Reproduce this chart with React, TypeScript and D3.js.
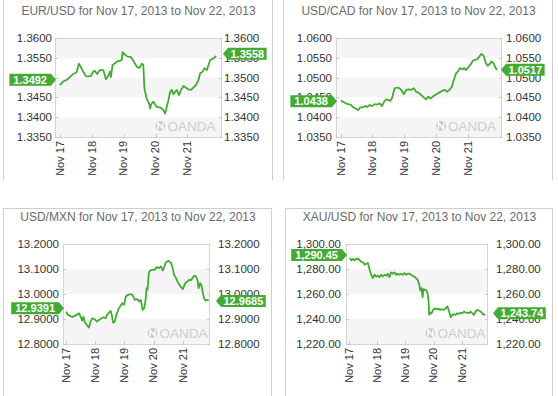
import * as d3 from 'd3';

const W = 558;
const H = 396;
const FONT = "'Liberation Sans', Arial, Helvetica, sans-serif";
const GREEN = '#43ab33';

// times are hours after Nov 17 2013 00:00, values as plotted
const eurHours = [0, 2.5, 5, 7.5, 10, 12.6, 14.3, 15.6, 17.6, 19.6, 21.4, 23.4, 25.1, 26.4, 28.1, 30.2, 32.7, 34.7, 36.4, 37.7, 38.4, 39.7, 41.5, 43.2, 45.2, 46.7, 47.2, 49.0, 51.0, 53.3, 55.3, 57.8, 59.8, 61.6, 62.8, 63.6, 65.3, 67.1, 67.9, 69.1, 70.4, 71.6, 72.9, 74.9, 76.6, 77.9, 79.2, 80.4, 81.7, 82.9, 84.2, 85.4, 86.7, 88.0, 89.7, 91.2, 93.0, 94.7, 96.8, 98.8, 100.5, 102.3, 104.3, 105.5, 107.3, 108.8, 110.6, 111.8, 113.1, 114.8, 116.8, 117.6];
const eurValues = [1.3481, 1.3490, 1.3494, 1.3501, 1.3509, 1.3513, 1.3535, 1.3528, 1.3515, 1.3504, 1.3503, 1.3504, 1.3515, 1.3517, 1.3509, 1.3519, 1.3519, 1.3496, 1.3504, 1.3515, 1.3501, 1.3532, 1.3536, 1.3541, 1.3542, 1.3545, 1.3564, 1.3558, 1.3553, 1.3552, 1.3543, 1.3528, 1.3524, 1.3535, 1.3532, 1.3473, 1.3447, 1.3435, 1.3422, 1.3435, 1.3439, 1.3433, 1.3426, 1.3425, 1.3422, 1.3418, 1.3409, 1.3426, 1.3443, 1.3464, 1.3469, 1.3458, 1.3464, 1.3469, 1.3456, 1.3469, 1.3479, 1.3475, 1.3470, 1.3469, 1.3475, 1.3481, 1.3494, 1.3511, 1.3515, 1.3524, 1.3519, 1.3532, 1.3545, 1.3547, 1.3552, 1.3555];
const eurTicks = [1.335, 1.34, 1.345, 1.35, 1.355, 1.36];

const cadHours = [0, 1.8, 3.8, 5.5, 7.5, 9.3, 11.1, 13.1, 14.8, 16.8, 18.6, 20.1, 21.9, 23.6, 25.6, 27.6, 29.4, 31.2, 32.7, 34.4, 36.2, 37.4, 38.7, 40.7, 42.7, 44.5, 45.7, 47.7, 49.5, 51.3, 53.3, 55.3, 57.0, 58.8, 60.8, 62.8, 64.6, 66.3, 67.9, 69.6, 71.4, 73.4, 75.4, 77.1, 78.9, 80.4, 82.2, 84.0, 85.5, 87.2, 88.5, 90.2, 92.2, 93.5, 94.7, 96.0, 98.0, 99.8, 101.5, 103.5, 104.8, 106.5, 108.1, 109.8, 111.1, 112.8, 114.1, 115.6, 116.6, 118.1];
const cadValues = [1.0442, 1.0439, 1.0435, 1.0433, 1.0432, 1.0425, 1.0422, 1.0418, 1.0425, 1.0425, 1.0428, 1.0426, 1.0431, 1.0428, 1.0433, 1.0432, 1.0435, 1.0428, 1.0439, 1.0445, 1.0443, 1.0441, 1.0447, 1.0473, 1.0475, 1.0473, 1.0469, 1.0458, 1.0469, 1.0470, 1.0469, 1.0473, 1.0464, 1.0462, 1.0456, 1.0450, 1.0445, 1.0452, 1.0447, 1.0452, 1.0456, 1.0460, 1.0464, 1.0467, 1.0469, 1.0464, 1.0469, 1.0477, 1.0494, 1.0511, 1.0515, 1.0524, 1.0521, 1.0524, 1.0519, 1.0524, 1.0532, 1.0542, 1.0545, 1.0547, 1.0553, 1.0560, 1.0555, 1.0536, 1.0530, 1.0535, 1.0541, 1.0536, 1.0528, 1.0519];
const cadTicks = [1.035, 1.04, 1.045, 1.05, 1.055, 1.06];

const mxnHours = [0, 1.4, 3.3, 5.0, 6.9, 8.8, 10.5, 11.9, 13.2, 14.3, 15.4, 17.1, 18.8, 20.1, 21.5, 23.4, 25.4, 27.0, 29.0, 30.9, 32.6, 33.7, 35.3, 36.7, 37.8, 38.6, 40.0, 41.4, 43.0, 44.7, 46.3, 47.7, 49.1, 51.0, 53.0, 54.6, 56.6, 58.5, 60.1, 61.5, 62.9, 64.3, 65.4, 66.2, 67.0, 68.1, 69.5, 71.2, 73.1, 74.5, 76.4, 78.1, 79.4, 80.6, 81.9, 84.1, 86.1, 87.7, 88.8, 90.5, 91.6, 93.2, 94.6, 96.0, 97.1, 98.5, 99.9, 101.2, 102.6, 104.0, 105.4, 106.8, 108.1, 109.0, 110.3, 111.2, 112.6, 113.7, 115.0, 116.4, 117.2];
const mxnValues = [12.9298, 12.9164, 12.9124, 12.9070, 12.9124, 12.9164, 12.9231, 12.9097, 12.8936, 12.9097, 12.8856, 12.8763, 12.8655, 12.8896, 12.9030, 12.8990, 12.8896, 12.8963, 12.9030, 12.9070, 12.9030, 12.9164, 12.9258, 12.9324, 12.9097, 12.8856, 12.8896, 12.9164, 12.9391, 12.9525, 12.9632, 12.9565, 12.9900, 12.9967, 12.9993, 12.9967, 12.9766, 12.9793, 12.9699, 12.9766, 12.9365, 12.9431, 12.9766, 13.0234, 13.0167, 13.0863, 13.0943, 13.0970, 13.0970, 13.1077, 13.1037, 13.1104, 13.0943, 13.1037, 13.1264, 13.1331, 13.1264, 13.1037, 13.0769, 13.0635, 13.0502, 13.0368, 13.0274, 13.0194, 13.0328, 13.0462, 13.0502, 13.0569, 13.0542, 13.0635, 13.0729, 13.0702, 13.0569, 13.0234, 13.0435, 13.0368, 13.0033, 12.9793, 12.9739, 12.9766, 12.9726];
const mxnTicks = [12.8, 12.9, 13.0, 13.1, 13.2];

const xauHours = [0.6, 2.0, 3.4, 4.8, 6.2, 8.2, 9.9, 11.9, 13.3, 14.7, 16.1, 17.5, 18.9, 20.3, 21.7, 23.2, 24.6, 26.0, 27.4, 28.8, 30.2, 31.6, 33.0, 34.4, 35.9, 37.3, 38.7, 40.1, 41.5, 42.9, 44.3, 45.7, 47.2, 48.6, 50.0, 51.4, 52.8, 54.2, 55.6, 57.0, 58.4, 59.9, 60.7, 61.8, 62.7, 63.5, 64.7, 66.1, 66.9, 67.8, 68.3, 69.2, 70.3, 71.7, 73.1, 74.8, 76.2, 77.6, 79.1, 80.5, 82.4, 83.9, 85.3, 86.7, 88.1, 89.5, 90.9, 92.3, 93.7, 95.2, 96.6, 98.0, 99.4, 100.8, 102.2, 103.6, 105.0, 106.5, 107.9, 109.3, 110.7, 112.1, 113.5, 114.9, 116.3];
const xauValues = [1288.8, 1286.9, 1288.0, 1286.9, 1288.2, 1288.0, 1286.1, 1285.3, 1283.4, 1284.2, 1284.8, 1279.4, 1275.4, 1272.7, 1275.4, 1274.0, 1274.6, 1273.5, 1275.4, 1274.0, 1275.4, 1274.6, 1276.2, 1273.5, 1277.3, 1276.2, 1277.3, 1275.4, 1276.2, 1275.4, 1276.2, 1275.4, 1276.7, 1275.4, 1276.2, 1276.2, 1275.4, 1274.6, 1274.0, 1272.7, 1271.4, 1267.4, 1262.8, 1264.7, 1257.5, 1263.9, 1263.3, 1262.8, 1260.7, 1254.0, 1243.3, 1245.1, 1244.6, 1247.3, 1248.6, 1247.8, 1248.1, 1247.3, 1247.8, 1247.3, 1248.6, 1250.0, 1246.0, 1241.4, 1243.3, 1243.8, 1243.3, 1244.6, 1244.1, 1245.1, 1244.6, 1246.0, 1245.1, 1245.1, 1244.6, 1246.0, 1244.6, 1243.3, 1246.0, 1247.3, 1246.8, 1246.0, 1244.6, 1243.3, 1243.8];
const xauTicks = [1220, 1240, 1260, 1280, 1300];

const dayLabels = ['Nov 17', 'Nov 18', 'Nov 19', 'Nov 20', 'Nov 21'];

const panels = [
  {
    title: 'EUR/USD for Nov 17, 2013 to Nov 22, 2013', hours: eurHours, values: eurValues, ticks: eurTicks,
    open: '1.3492', last: '1.3558', fmt: d3.format('.4f'),
    frame: { l: 3, r: 272, t: -1, b: 180 }, plot: { l: 55, r: 221, t: 38, b: 137 }, titleY: 14.5,
    xDomain: [-3.6, 121.2], leftX: 52, rightX: 224, tipOff: 2, wmOff: 5.5,
  },
  {
    title: 'USD/CAD for Nov 17, 2013 to Nov 22, 2013', hours: cadHours, values: cadValues, ticks: cadTicks,
    open: '1.0438', last: '1.0517', fmt: d3.format('.4f'),
    frame: { l: 283, r: 552, t: -1, b: 180 }, plot: { l: 336, r: 501, t: 38, b: 137 }, titleY: 14.5,
    xDomain: [-3.6, 121.2], leftX: 332, rightX: 506, tipOff: 0, wmOff: 5,
  },
  {
    title: 'USD/MXN for Nov 17, 2013 to Nov 22, 2013', hours: mxnHours, values: mxnValues, ticks: mxnTicks,
    open: '12.9391', last: '12.9685', fmt: d3.format('.4f'),
    frame: { l: 3, r: 271, t: 208, b: 400 }, plot: { l: 63, r: 209, t: 244, b: 344 }, titleY: 220.5,
    xDomain: [-2.6, 117.6], leftX: 59, rightX: 218, tipOff: 7, wmOff: 1.5,
  },
  {
    title: 'XAU/USD for Nov 17, 2013 to Nov 22, 2013', hours: xauHours, values: xauValues, ticks: xauTicks,
    open: '1,290.45', last: '1,243.74', fmt: d3.format(',.2f'),
    frame: { l: 285, r: 552, t: 208, b: 400 }, plot: { l: 346, r: 487, t: 244, b: 344 }, titleY: 220.5,
    xDomain: [-2.6, 117.6], leftX: 341, rightX: 496, tipOff: 6, wmOff: 1.5,
  },
];

// bold Arial-like width for digit strings
function textW(s: string, size: number) {
  let w = 0;
  for (const c of s) w += c === '.' || c === ',' ? 0.278 : 0.556;
  return w * size;
}

function Panel({ p }: { p: any }) {
  const { plot, frame } = p;
  const x = d3.scaleLinear().domain(p.xDomain).range([plot.l, plot.r]);
  const y = d3.scaleLinear().domain([p.ticks[0], p.ticks[p.ticks.length - 1]]).range([plot.b, plot.t]);
  const line = d3.line<number>().x((_, i) => x(p.hours[i])).y((d) => y(d));

  const openV = +p.open.replace(/,/g, '');
  const lastV = +p.last.replace(/,/g, '');
  const lh = 12;

  // left label
  const ly = y(openV) - 1;
  const lTip = plot.l + 1;
  const lx1 = lTip - 5;
  const lw = textW(p.open, 11) + 8;
  const lx0 = lx1 - lw;
  const lPath = `M${lx0},${ly - lh / 2}H${lx1}L${lTip},${ly}L${lx1},${ly + lh / 2}H${lx0}Z`;

  // right label
  const ry = y(lastV) - 1;
  const rTip = plot.r + p.tipOff;
  const rx0 = rTip + 5;
  const rw = textW(p.last, 11) + 5;
  const rPath = `M${rTip},${ry}L${rx0},${ry - lh / 2}H${rx0 + rw}V${ry + lh / 2}H${rx0}Z`;

  const wmRight = plot.r - p.wmOff;
  const wmW = 3.556 * 13.5;

  return (
    <g>
      <path d={`M${frame.l + 0.5},${frame.b}V${frame.t + 0.5}H${frame.r + 0.5}V${frame.b}`} fill="none" stroke="#cfcfcf" />
      <text x={(frame.l + frame.r) / 2 + 1} y={p.titleY} textAnchor="middle" fontSize={12} fill="#6b6b6b">{p.title}</text>

      {p.ticks.slice(0, -1).map((t: number, i: number) =>
        i % 2 === 0 ? (
          <rect key={i} x={plot.l} y={y(p.ticks[i + 1])} width={plot.r - plot.l} height={y(t) - y(p.ticks[i + 1])} fill="#f5f5f5" />
        ) : null
      )}
      <rect x={plot.l + 0.5} y={plot.t + 0.5} width={plot.r - plot.l} height={plot.b - plot.t} fill="none" stroke="#d4d4d4" />

      {p.ticks.map((t: number, i: number) => (
        <g key={i}>
          <line x1={plot.l} x2={plot.l + 3} y1={Math.round(y(t)) + 0.5} y2={Math.round(y(t)) + 0.5} stroke="#c8c8c8" />
          <line x1={plot.r - 2} x2={plot.r + 1} y1={Math.round(y(t)) + 0.5} y2={Math.round(y(t)) + 0.5} stroke="#c8c8c8" />
          <text x={p.leftX} y={y(t)} dy="0.35em" textAnchor="end" fontSize={11.5} fill="#333">{p.fmt(t)}</text>
          <text x={p.rightX} y={y(t)} dy="0.35em" textAnchor="start" fontSize={11.5} fill="#333">{p.fmt(t)}</text>
        </g>
      ))}

      {dayLabels.map((d, i) => (
        <g key={d}>
          <line x1={Math.round(x(i * 24)) + 0.5} x2={Math.round(x(i * 24)) + 0.5} y1={plot.b - 3} y2={plot.b + 1} stroke="#c8c8c8" />
          <text transform={`translate(${x(i * 24)},${plot.b + 4}) rotate(-90)`} dy="0.35em" textAnchor="end" fontSize={11} fill="#333">{d}</text>
        </g>
      ))}

      <g fill="#cdcdcd">
        <circle cx={wmRight - wmW - 7} cy={plot.b - 11} r={5} />
        <path d={`M${wmRight - wmW - 9.5},${plot.b - 8}V${plot.b - 14}L${wmRight - wmW - 4.5},${plot.b - 8}V${plot.b - 14}`} fill="none" stroke="#fff" strokeWidth={1.4} />
        <text x={wmRight} y={plot.b - 6} textAnchor="end" fontSize={13.5}>OANDA</text>
      </g>

      <path d={line(p.values) || ''} fill="none" stroke={GREEN} strokeWidth={1.8} strokeLinejoin="round" />

      <path d={lPath} fill={GREEN} />
      <text x={(lx0 + lx1) / 2} y={ly} dy="0.36em" textAnchor="middle" fontSize={11} fontWeight="bold" fill="#fff">{p.open}</text>
      <path d={rPath} fill={GREEN} />
      <text x={rx0 + rw / 2} y={ry} dy="0.36em" textAnchor="middle" fontSize={11} fontWeight="bold" fill="#fff">{p.last}</text>
    </g>
  );
}

export default function App() {
  return (
    <svg width={W} height={H} style={{ position: 'absolute', left: 0, top: 0, background: '#fff' }} fontFamily={FONT}>
      {panels.map((p, i) => (
        <Panel key={i} p={p} />
      ))}
    </svg>
  );
}
